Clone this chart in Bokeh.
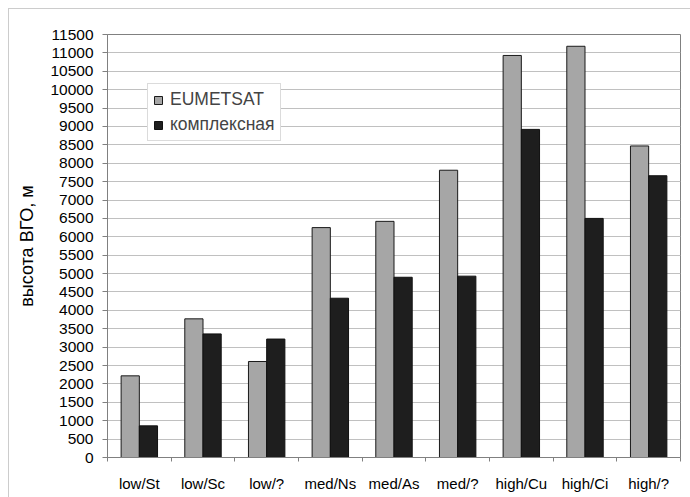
from bokeh.plotting import figure
from bokeh.models import FixedTicker, Legend, LegendItem, ColumnDataSource
from bokeh.embed import file_html
from bokeh.resources import INLINE

categories = ["low/St", "low/Sc", "low/?", "med/Ns", "med/As", "med/?", "high/Cu", "high/Ci", "high/?"]
eumetsat = [2220, 3770, 2610, 6250, 6420, 7810, 10930, 11180, 8470]
kompleks = [860, 3360, 3220, 4330, 4900, 4930, 8920, 6500, 7660]
y_ticks = list(range(0, 11501, 500))

centers = [i + 0.5 for i in range(len(categories))]
bw = 0.286

src = ColumnDataSource(dict(
    xg=[c - bw / 2 for c in centers],
    xk=[c + bw / 2 for c in centers],
    eum=eumetsat,
    kom=kompleks,
))

FONT = "Liberation Sans"

p = figure(width=682, height=489, output_backend="svg", toolbar_location=None,
           x_range=(0, len(categories)), y_range=(0, 11500),
           min_border_left=98, min_border_right=11, min_border_top=25, min_border_bottom=41)
p.styles = {"margin-left": "8px", "margin-top": "8px",
            "border-top": "1px solid #cccccc", "border-left": "1px solid #cccccc",
            "box-sizing": "border-box"}

r1 = p.vbar(x="xg", top="eum", width=bw, source=src, fill_color="#a6a6a6", line_color="#1a1a1a", line_width=1)
r2 = p.vbar(x="xk", top="kom", width=bw, source=src, fill_color="#1e1e1e", line_color="#111111", line_width=1)

p.outline_line_color = "#808080"
p.outline_line_width = 1

# x axis
p.xaxis.ticker = FixedTicker(ticks=centers, minor_ticks=list(range(len(categories) + 1)))
p.xaxis.major_label_overrides = {c: lab for c, lab in zip(centers, categories)}
p.xaxis.major_tick_out = 0
p.xaxis.major_tick_in = 0
p.xaxis.minor_tick_out = 4
p.xaxis.minor_tick_in = 0
p.xaxis.minor_tick_line_color = "#808080"
p.xaxis.axis_line_color = "#808080"
p.xaxis.major_label_standoff = 13
p.xaxis.major_label_text_font = FONT
p.xaxis.major_label_text_font_size = "15px"
p.xaxis.major_label_text_color = "#000000"

# y axis
p.yaxis.ticker = FixedTicker(ticks=y_ticks)
p.yaxis.major_tick_out = 5
p.yaxis.major_tick_in = 0
p.yaxis.minor_tick_line_color = None
p.yaxis.major_tick_line_color = "#808080"
p.yaxis.axis_line_color = "#808080"
p.yaxis.major_label_standoff = 9
p.yaxis.major_label_text_font = FONT
p.yaxis.major_label_text_font_size = "15.5px"
p.yaxis.major_label_text_color = "#000000"
p.yaxis.axis_label = "высота ВГО, м"
p.yaxis.axis_label_text_font = FONT
p.yaxis.axis_label_text_font_size = "18px"
p.yaxis.axis_label_text_font_style = "normal"
p.yaxis.axis_label_text_color = "#000000"
p.yaxis.axis_label_standoff = 10

p.xgrid.grid_line_color = None
p.ygrid.grid_line_color = "#c0c0c0"
p.ygrid.grid_line_width = 1

legend = Legend(items=[LegendItem(label="EUMETSAT", renderers=[r1]),
                       LegendItem(label="комплексная", renderers=[r2])],
                location=(40, 316))
legend.label_text_font = FONT
legend.label_text_font_size = "17.5px"
legend.glyph_width = 10
legend.glyph_height = 10
legend.label_standoff = 7
legend.padding = 5
legend.spacing = 4
legend.border_line_color = "#b8b8b8"
legend.border_line_width = 1
legend.background_fill_color = "#ffffff"
legend.background_fill_alpha = 1
p.add_layout(legend, "center")

open("out.html", "w").write(file_html(p, INLINE))
